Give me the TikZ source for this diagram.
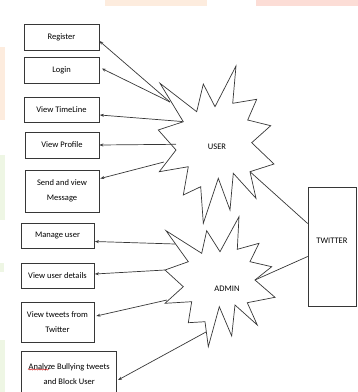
\documentclass[tikz,border=0pt]{standalone}
\usepackage{fontspec}
\setmainfont{Carlito}
\usetikzlibrary{arrows.meta,calc,decorations.pathmorphing}
\definecolor{wpeach}{RGB}{253,236,222}
\definecolor{wpink}{RGB}{252,221,214}
\definecolor{wgreen}{RGB}{238,246,228}
\definecolor{ln}{RGB}{55,55,55}
\tikzset{
  box/.style={draw=ln, line width=0.7pt, inner sep=1pt, align=center,
    font=\fontsize{8.5}{14.5}\selectfont},
  starline/.style={draw=ln, line width=0.7pt, line join=miter, fill=white},
  conn/.style={draw=ln, line width=0.7pt, -{Stealth[length=4pt,width=3pt]}},
  plain/.style={draw=ln, line width=0.7pt},
  lbl/.style={font=\fontsize{8.5}{10}\selectfont, inner sep=0pt}
}
\begin{document}
\begin{tikzpicture}[x=1pt,y=-1pt]
\useasboundingbox (0,0) rectangle (358,392);
% faint background patches
\fill[wpeach] (105,0) rectangle (207,6);
\fill[wpink] (256,0) rectangle (358,6);
\fill[wpeach] (0,47) rectangle (5,120);
\fill[wgreen] (0,155) rectangle (5,220);
\fill[wgreen] (0,263) rectangle (4,272);
\fill[wgreen] (0,340) rectangle (5,392);

% boxes
\node[box, minimum width=75pt, minimum height=26pt] (reg) at (61.5,37) {Register};
\node[box, minimum width=75pt, minimum height=26pt] (login) at (61.5,70) {Login};
\node[box, minimum width=75pt, minimum height=25pt] (tl) at (61.5,109.5) {View TimeLine};
\node[box, minimum width=74pt, minimum height=26pt] (prof) at (62,145) {View Profile};
\node[box, minimum width=74pt, minimum height=42pt] (msg) at (62,191) {Send and view\\Message};
\node[box, minimum width=73pt, minimum height=25pt] (man) at (57.5,235.5) {Manage user};
\node[box, minimum width=73pt, minimum height=25pt] (det) at (57.5,275.5) {View user details};
\node[box, minimum width=73pt, minimum height=40pt] (tw) at (57.5,322) {View tweets from\\Twitter};
\node[box, minimum width=95pt, minimum height=46pt] (ana) at (69.2,374) {Analyze Bullying tweets\\and Block User};
\draw[red!80!black, line width=0.4pt, decorate, decoration={snake, amplitude=0.6pt, segment length=2.5pt}] (28,369.5) -- (49,369.5);
\node[box, minimum width=48pt, minimum height=119pt, text height=0pt] (twitter) at (332,246.5) {};
\node[lbl] (twl) at (332,241) {TWITTER};

% USER star
\path[starline] (236,66) -- (232.7,103.3) -- (256.7,99.3) -- (247.7,120) -- (270.7,125.7)
  -- (251.7,142.7) -- (274,164) -- (250,171.7) -- (256,198.3) -- (233.3,173.3)
  -- (230,210) -- (218.3,178.3) -- (203.3,223.3) -- (200.7,186.7) -- (183.3,195)
  -- (188.3,166.7) -- (159.3,171.7) -- (176,150) -- (158.3,130) -- (183.3,121.7)
  -- (160,83.3) -- (196.7,111.7) -- (203.3,84) -- (215,106.7) -- cycle;
\node[lbl] (user) at (217,147) {USER};

% ADMIN star
\path[starline] (239,216.7) -- (237.3,249.3) -- (259,243.3) -- (250,261.7) -- (271.7,266.7)
  -- (255,280) -- (275,297.3) -- (247.3,302.7) -- (257.3,325) -- (235,305)
  -- (231.7,336) -- (219.3,306.7) -- (208.3,346.7) -- (205,321.7) -- (188.3,322.7)
  -- (191.7,301.7) -- (165,303.3) -- (183.3,286.7) -- (165,270) -- (188.3,261.7)
  -- (166,230.7) -- (201.7,253.3) -- (206.7,230.7) -- (220,251.7) -- cycle;
\node[lbl] (admin) at (227,289) {ADMIN};

% connection points on the stars
\coordinate (u1) at (170,102);
\coordinate (u2) at (182,121.5);
\coordinate (u3) at (176,144.3);
\coordinate (u4) at (164,162);
\coordinate (u5) at (250,171.7);
\coordinate (a1) at (175,244);
\coordinate (a2) at (165,270);
\coordinate (a3) at (167,300);
\coordinate (a4) at (206,332);
\coordinate (a5) at (255,280);

% arrows
\draw[conn] (u1) -- ($(reg.east)+(0,4)$);
\draw[conn] (u1) -- ($(login.east)+(2.5,-1.5)$);
\draw[conn] (u2) -- ($(tl.east)+(0.5,5.5)$);
\draw[conn] (u3) -- (prof.east);
\draw[conn] (u4) -- ($(msg.east)+(1,-12.5)$);
\draw[conn] (a1) -- ($(man.east)+(0.5,6)$);
\draw[conn] (a2) -- ($(det.east)+(0.5,-1.5)$);
\draw[conn] (a3) -- ($(tw.east)+(2,-6)$);
\draw[conn] (a4) -- ($(ana.east)+(1,6)$);
\draw[plain] (u5) -- ($(twitter.west)+(0,-23)$);
\draw[plain] (a5) -- ($(twitter.west)+(0,10)$);
\end{tikzpicture}
\end{document}
